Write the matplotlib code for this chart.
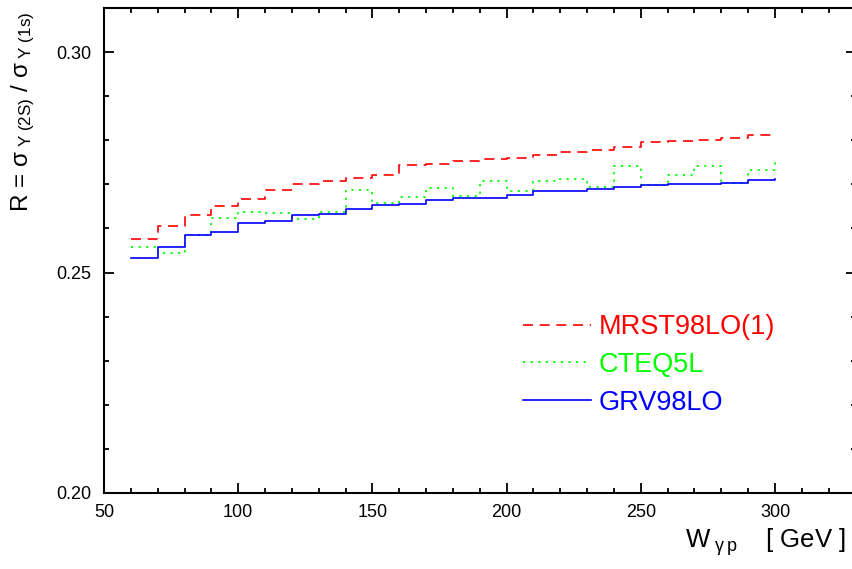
import matplotlib
matplotlib.use("Agg")
import matplotlib.pyplot as plt
from matplotlib.ticker import MultipleLocator

# ---- data ----
W = [60, 70, 80, 90, 100, 110, 120, 130, 140, 150, 160, 170, 180,
     190, 200, 210, 220, 230, 240, 250, 260, 270, 280, 290, 300]
mrst = [0.2577, 0.2605, 0.2631, 0.2652, 0.2667, 0.2687, 0.2700, 0.2708,
        0.2714, 0.2722, 0.2744, 0.2747, 0.2752, 0.2757, 0.2760, 0.2766,
        0.2773, 0.2779, 0.2784, 0.2795, 0.2799, 0.2800, 0.2805, 0.2811,
        0.2811]
cteq = [0.2558, 0.2545, 0.2585, 0.2623, 0.2638, 0.2636, 0.2621, 0.2638,
        0.2687, 0.2658, 0.2672, 0.2692, 0.2673, 0.2708, 0.2686, 0.2707,
        0.2712, 0.2693, 0.2741, 0.2699, 0.2722, 0.2742, 0.2702, 0.2732,
        0.2757]
grv = [0.2534, 0.2559, 0.2585, 0.2592, 0.2612, 0.2617, 0.2631, 0.2633,
       0.2644, 0.2654, 0.2655, 0.2664, 0.2670, 0.2670, 0.2677, 0.2684,
       0.2685, 0.2689, 0.2693, 0.2698, 0.2701, 0.2701, 0.2704, 0.2709,
       0.2712]
labels = ["MRST98LO(1)", "CTEQ5L", "GRV98LO"]
colors = ["#ff0000", "#00ff00", "#0000ff"]

plt.rcParams['font.family'] = ['Liberation Sans', 'DejaVu Sans']
plt.rcParams['mathtext.fontset'] = 'custom'
plt.rcParams['mathtext.rm'] = 'Liberation Sans'
plt.rcParams['mathtext.it'] = 'Liberation Sans:italic'

fig = plt.figure(figsize=(8.52, 5.69), dpi=100)
ax = fig.add_axes([104/852, 76/569, 751.5/852, 485/569])

ax.plot(W, mrst, drawstyle='steps-post', color=colors[0], lw=1.2,
        dashes=(6, 4), label=labels[0])
ax.plot(W, cteq, drawstyle='steps-post', color=colors[1], lw=1.3,
        dashes=(1.2, 3), label=labels[1])
ax.plot(W, grv, drawstyle='steps-post', color=colors[2], lw=1.2,
        label=labels[2])

ax.set_xlim(50, 330)
ax.set_ylim(0.20, 0.31)
ax.xaxis.set_major_locator(MultipleLocator(50))
ax.xaxis.set_minor_locator(MultipleLocator(10))
ax.yaxis.set_major_locator(MultipleLocator(0.05))
ax.yaxis.set_minor_locator(MultipleLocator(0.01))
ax.yaxis.set_major_formatter(matplotlib.ticker.FormatStrFormatter('%.2f'))

for s in ax.spines.values():
    s.set_linewidth(1.5)
ax.tick_params(which='both', direction='in', top=True, right=True,
               width=1.3, labelsize=13)
ax.tick_params(which='major', length=7)
ax.tick_params(which='minor', length=3.5)
ax.tick_params(axis='y', pad=9)
ax.tick_params(axis='x', pad=8)

leg = ax.legend(loc='upper left', bbox_to_anchor=(523/852, 1 - 314/569),
                bbox_transform=fig.transFigure, frameon=False,
                fontsize=19.5, handlelength=2.5, handletextpad=0.3,
                labelspacing=0.44, labelcolor='linecolor', borderaxespad=0,
                borderpad=0)

fig.text(23/852, 1 - 12/569,
         r'R = $\mathrm{\sigma}_{\ \mathrm{\Upsilon\ (2S)}}$ / $\mathrm{\sigma}_{\ \mathrm{\Upsilon\ (1s)}}$',
         rotation=90, ha='center', va='top', fontsize=17.5)
fig.text(846/852, 1 - 548/569,
         r'W$_{\ \mathrm{\gamma\,p}}$    [ GeV ]',
         ha='right', va='baseline', fontsize=18.5)

fig.savefig('out.png', dpi=100)
